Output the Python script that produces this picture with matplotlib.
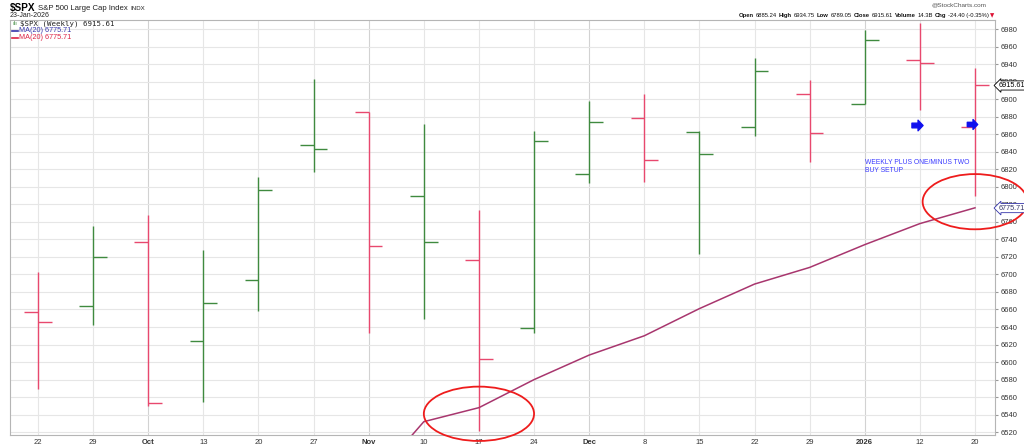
import numpy as np
import matplotlib
matplotlib.use("Agg")
import matplotlib.pyplot as plt
from matplotlib.patches import Ellipse
from matplotlib.path import Path
import matplotlib.transforms as mtransforms
from matplotlib import font_manager

plt.rcParams['font.family'] = ['Liberation Sans', 'DejaVu Sans']
_names = {f.name for f in font_manager.fontManager.ttflist}
NARROW = 'Liberation Sans Narrow' if 'Liberation Sans Narrow' in _names else 'Liberation Sans'

# ---------------- data ----------------
week_labels = ['22', '29', 'Oct', '13', '20', '27', 'Nov', '10', '17', '24',
               'Dec', '8', '15', '22', '29', '2026', '12', '20']
month_labels = {'Oct', 'Nov', 'Dec', '2026'}
opens  = [6657, 6664, 6737, 6624, 6694, 6848, 6885, 6790, 6717, 6639,
          6815, 6878, 6863, 6868, 6906, 6895, 6945, 6868]
highs  = [6703, 6755, 6768, 6728, 6811, 6923, 6885, 6872, 6773, 6864,
          6898, 6906, 6864, 6947, 6922, 6979, 6987, 6935]
lows   = [6569, 6642, 6550, 6555, 6658, 6817, 6633, 6649, 6521, 6633,
          6804, 6805, 6723, 6858, 6828, 6895, 6888, 6789]
closes = [6646, 6720, 6553, 6667, 6796, 6843, 6732, 6737, 6604, 6852,
          6874, 6831, 6837, 6932, 6861, 6967, 6941, 6916]
prev_close = 6664
ma20 = [np.nan] * 6 + [6460, 6532, 6548, 6580, 6608, 6630, 6661, 6689,
                       6708, 6734, 6758, 6776]
y_ticks = list(range(6520, 6981, 20))
last_close = 6915.61
last_ma = 6775.71
arrow_weeks = [16, 17]
arrow_levels = [6870, 6872]
circle_weeks = [8, 17]
circle_levels = [6541, 6783]
note_text = "WEEKLY PLUS ONE/MINUS TWO\nBUY SETUP"
note_week = 15
note_level = 6832
header_fields = [("Open", "6885.24"), ("High", "6934.75"), ("Low", "6789.05"),
                 ("Close", "6915.61"), ("Volume", "14.3B"), ("Chg", "-24.40 (-0.35%)")]

# ---------------- figure ----------------
W, H = 1024, 446
fig = plt.figure(figsize=(W / 100, H / 100), dpi=100)
L, R, T, B = 10, 995, 20, 435
ax = fig.add_axes([L / W, 1 - B / H, (R - L) / W, (B - T) / H])

x = np.arange(len(opens))
o = np.array(opens); h = np.array(highs); l = np.array(lows); c = np.array(closes)
prev = np.concatenate([[prev_close], c[:-1]])
up = c >= prev
GREEN = '#3f8a3f'
RED = '#e8486e'
cols = np.where(up, GREEN, RED)

ax.vlines(x, l, h, colors=cols, lw=1.0, zorder=3)
ax.hlines(o, x - 0.25, x, colors=cols, lw=1.0, zorder=3)
ax.hlines(c, x, x + 0.25, colors=cols, lw=1.0, zorder=3)

ax.plot(x, ma20, color='#a8366e', lw=1.1, zorder=4)

# circles
circ_w = [2.0, 1.9]
circ_h = [62, 63]
for wk, lv, cw, ch in zip(circle_weeks, circle_levels, circ_w, circ_h):
    e = Ellipse((wk, lv), cw, ch, fill=False, ec='#ee1c1c', lw=1.3,
                zorder=5, clip_on=False)
    ax.add_patch(e)

# blue arrows
arrow_path = Path([(-1, -0.42), (0.1, -0.42), (0.1, -0.95), (1, 0),
                   (0.1, 0.95), (0.1, 0.42), (-1, 0.42), (-1, -0.42)],
                  [Path.MOVETO] + [Path.LINETO] * 6 + [Path.CLOSEPOLY])
for wk, lv, ms in zip(arrow_weeks, arrow_levels, [8.0, 7.5]):
    ax.plot([wk - 0.05], [lv], marker=arrow_path, ms=ms, color='#1010ee',
            mec='#1010ee', ls='none', zorder=6)

ax.text(note_week, note_level, note_text, color='#3a3aff', fontsize=4.9,
        family=NARROW, va='top', ha='left', linespacing=1.3, zorder=6)

# axes styling
ax.set_xlim(-0.508, 17.363)
ax.set_ylim(6516.8, 6990.3)
ax.set_xticks(x)
ax.set_xticklabels(week_labels)
for lab in ax.get_xticklabels():
    if lab.get_text() in month_labels:
        lab.set_fontweight('bold')
ax.set_yticks(y_ticks)
ax.yaxis.tick_right()
ax.tick_params(axis='x', length=0, pad=3, labelsize=5.5, labelcolor='#333333')
ax.tick_params(axis='y', length=2, pad=2, labelsize=5.5, labelcolor='#333333',
               color='#999999')
ax.grid(True, color='#e6e6e6', lw=0.8, zorder=0)
for lab, gl in zip(week_labels, ax.get_xgridlines()):
    if lab in month_labels:
        gl.set_color('#d2d2d2')
ax.set_axisbelow(True)
for sp in ax.spines.values():
    sp.set_color('#b5b5b5')
    sp.set_linewidth(0.8)

# value tags on the right axis
trans = mtransforms.blended_transform_factory(ax.transAxes, ax.transData)
ax.text(1.004, last_close, f"{last_close:.2f}", transform=trans, fontsize=5.2,
        va='center', ha='left', zorder=7, clip_on=False, family=NARROW,
        bbox=dict(boxstyle='larrow,pad=0.15', fc='white', ec='black', lw=0.6))
ax.text(1.004, last_ma, f"{last_ma:.2f}", transform=trans, fontsize=5.2,
        va='center', ha='left', zorder=7, clip_on=False, color='#333366', family=NARROW,
        bbox=dict(boxstyle='larrow,pad=0.15', fc='white', ec='#3333aa', lw=0.6))

# ---------------- header texts ----------------
renderer = fig.canvas.get_renderer()

def ft(xp, yp, s, **kw):
    return fig.text(xp / W, 1 - yp / H, s, **kw)

def width_px(t):
    return t.get_window_extent(renderer).width

t1 = ft(10, 10.5, "$SPX", fontsize=7.2, fontweight='bold', va='baseline', ha='left')
xp = 10 + width_px(t1) + 2
t2 = ft(xp, 10.5, "S&P 500 Large Cap Index", fontsize=5.6, va='baseline', ha='left',
        color='#222222', family=NARROW)
xp += width_px(t2) + 3
ft(xp, 10.5, "INDX", fontsize=4.4, va='baseline', ha='left', color='#222222', family=NARROW)
ft(10, 15.5, "23-Jan-2026", fontsize=5.0, va='center', ha='left', color='#222222')

# legend inside plot
ft(12, 23.5, "\u0131l\u0131", fontsize=4.5, va='center', ha='left', color=GREEN)
ft(20, 23.5, "$SPX (Weekly) 6915.61", fontsize=5.3, va='center', ha='left',
   family='DejaVu Sans Mono', color='#222222')
fig.add_artist(plt.Line2D([12 / W, 18 / W], [1 - 30.5 / H] * 2, color='#3333aa', lw=1.2))
ft(19, 30.5, "MA(20) 6775.71", fontsize=5.2, va='center', ha='left', color='#3333aa')
fig.add_artist(plt.Line2D([12 / W, 18 / W], [1 - 37.5 / H] * 2, color='#dd2244', lw=1.2))
ft(19, 37.5, "MA(20) 6775.71", fontsize=5.2, va='center', ha='left', color='#dd2244')

ft(987, 5, "@StockCharts.com", fontsize=4.6, va='center', ha='right', color='#555555',
   family=NARROW)

segs = []
for k, v in header_fields:
    segs.append((k, 'bold'))
    segs.append((v, 'normal'))
xpos = 989
for s, wt in reversed(segs):
    t = ft(xpos, 17.3, s, fontsize=4.25, fontweight=wt, va='baseline', ha='right',
           color='#111111', family=NARROW)
    xpos -= width_px(t) + 1.9
ft(990, 15.5, "\u25bc", fontsize=4.0, va='center', ha='left', color='#dd1133',
   family='DejaVu Sans')

fig.savefig("out.png", dpi=100)
